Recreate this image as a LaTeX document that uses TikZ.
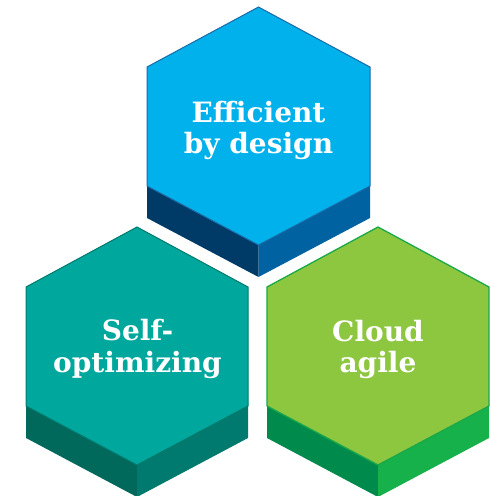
\documentclass[tikz,border=0pt]{standalone}
\usepackage{fontspec}
\setmainfont{DejaVu Serif}
\definecolor{bluef}{HTML}{00B1EB}
\definecolor{bluel}{HTML}{1C6AA6}
\definecolor{bluea}{HTML}{003B68}
\definecolor{blueb}{HTML}{0062A0}
\definecolor{tealf}{HTML}{00A79D}
\definecolor{teall}{HTML}{00796C}
\definecolor{teala}{HTML}{00695C}
\definecolor{tealb}{HTML}{007A6E}
\definecolor{greenf}{HTML}{8DC63F}
\definecolor{greenl}{HTML}{19A84A}
\definecolor{greena}{HTML}{008A4C}
\definecolor{greenb}{HTML}{16B14B}
\tikzset{
  hextext/.style={text=white, align=center, font=\bfseries\fontsize{28}{32}\selectfont},
}
% #1 name, #2 left x, #3 center x, #4 right x, #5 top y, #6 upper y, #7 lower y, #8 bottom y, #9 depth
\newcommand{\hexbox}[9]{%
  \coordinate (#1-t) at (#3,#5);
  \coordinate (#1-ul) at (#2,#6);
  \coordinate (#1-ll) at (#2,#7);
  \coordinate (#1-b) at (#3,#8);
  \coordinate (#1-lr) at (#4,#7);
  \coordinate (#1-ur) at (#4,#6);
  \coordinate (#1-lle) at (#2,#7+#9);
  \coordinate (#1-be) at (#3,#8+#9);
  \coordinate (#1-lre) at (#4,#7+#9);
}
\begin{document}
\begin{tikzpicture}[x=1pt,y=-1pt]
\useasboundingbox (0,0) rectangle (490,496);
\hexbox{top}{147}{258.5}{370}{7}{67}{186}{245}{32}
\hexbox{sl}{26}{137}{248}{227}{287}{406}{465}{32}
\hexbox{sr}{267}{378}{489}{227}{287}{406}{465}{32}
% top hexagon
\fill[bluea] (top-ll) -- (top-b) -- (top-be) -- (top-lle) -- cycle;
\fill[blueb] (top-b) -- (top-lr) -- (top-lre) -- (top-be) -- cycle;
\filldraw[fill=bluef, draw=bluel, line width=1pt, line join=miter] (top-t) -- (top-ur) -- (top-lr) -- (top-b) -- (top-ll) -- (top-ul) -- cycle;
% left hexagon
\fill[teala] (sl-ll) -- (sl-b) -- (sl-be) -- (sl-lle) -- cycle;
\fill[tealb] (sl-b) -- (sl-lr) -- (sl-lre) -- (sl-be) -- cycle;
\filldraw[fill=tealf, draw=teall, line width=1pt] (sl-t) -- (sl-ur) -- (sl-lr) -- (sl-b) -- (sl-ll) -- (sl-ul) -- cycle;
% right hexagon
\fill[greena] (sr-ll) -- (sr-b) -- (sr-be) -- (sr-lle) -- cycle;
\fill[greenb] (sr-b) -- (sr-lr) -- (sr-lre) -- (sr-be) -- cycle;
\filldraw[fill=greenf, draw=greenl, line width=1.3pt] (sr-t) -- (sr-ur) -- (sr-lr) -- (sr-b) -- (sr-ll) -- (sr-ul) -- cycle;
% labels
\node[hextext, anchor=base] (t1) at (258.5,122) {Efficient};
\node[hextext, anchor=base] (t2) at (258.5,153) {by design};
\node[hextext, anchor=base] (l1) at (137.5,340) {Self-};
\node[hextext, anchor=base] (l2) at (137.5,372) {optimizing};
\node[hextext, anchor=base] (r1) at (378,341) {Cloud};
\node[hextext, anchor=base] (r2) at (378,372) {agile};
\end{tikzpicture}
\end{document}
